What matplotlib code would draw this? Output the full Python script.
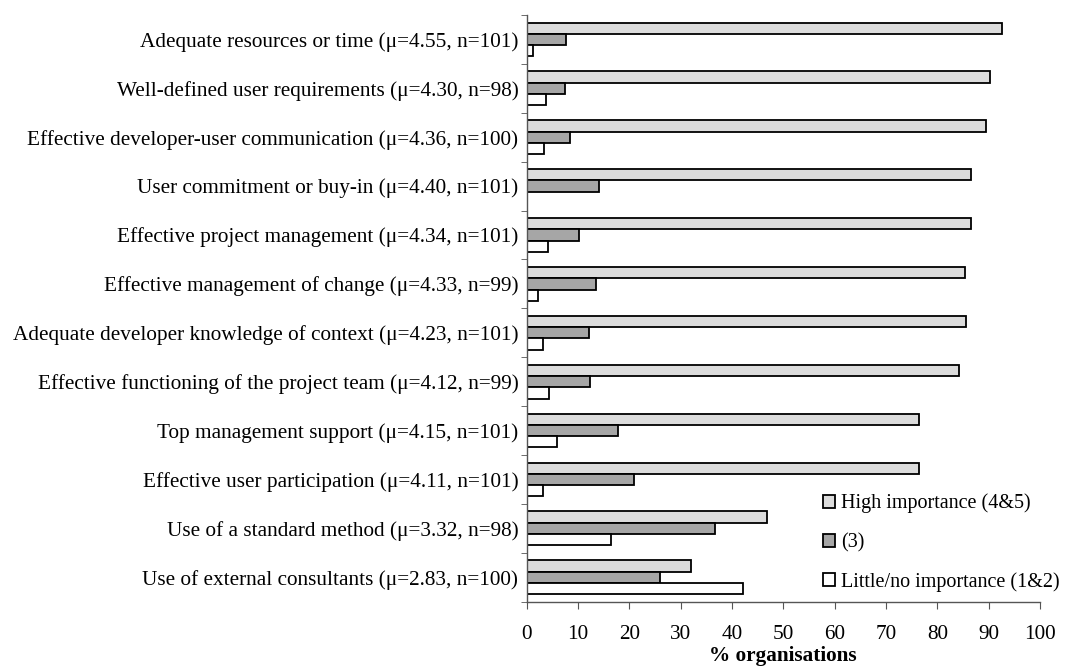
import numpy as np
import matplotlib
matplotlib.use("Agg")
import matplotlib.pyplot as plt

plt.rcParams['font.family'] = ['Liberation Serif', 'DejaVu Serif']

factors = [
    "Adequate resources or time (\u03bc=4.55, n=101)",
    "Well-defined user requirements (\u03bc=4.30, n=98)",
    "Effective developer-user communication (\u03bc=4.36, n=100)",
    "User commitment or buy-in (\u03bc=4.40, n=101)",
    "Effective project management (\u03bc=4.34, n=101)",
    "Effective management of change (\u03bc=4.33, n=99)",
    "Adequate developer knowledge of context (\u03bc=4.23, n=101)",
    "Effective functioning of the project team (\u03bc=4.12, n=99)",
    "Top management support (\u03bc=4.15, n=101)",
    "Effective user participation (\u03bc=4.11, n=101)",
    "Use of a standard method (\u03bc=3.32, n=98)",
    "Use of external consultants (\u03bc=2.83, n=100)",
]
high = [92.6, 90.2, 89.5, 86.6, 86.6, 85.3, 85.6, 84.3, 76.5, 76.5, 46.9, 32.1]
mid = [7.6, 7.4, 8.4, 14.1, 10.2, 13.5, 12.1, 12.3, 17.8, 20.9, 36.7, 26.0]
low = [1.2, 3.7, 3.4, 0.0, 4.2, 2.3, 3.2, 4.4, 5.9, 3.1, 16.4, 42.1]
series_labels = ["High importance (4&5)", "(3)", "Little/no importance (1&2)"]
series_colors = ["#dcdcdc", "#a6a6a6", "white"]

fig = plt.figure(figsize=(10.66, 6.69), dpi=100)
ax = fig.add_axes([0.494, 0.1006, 0.4816, 0.877])

n = len(factors)
pos = np.arange(n)
h = 0.23
for k, (vals, lab, col) in enumerate(zip([high, mid, low], series_labels, series_colors)):
    ax.barh(pos + (k - 1) * h, vals, height=h, color=col, edgecolor='black',
            linewidth=1.3, label=lab)

fs = 15.3
ax.set_ylim(n - 0.5, -0.5)
ax.set_xlim(0, 100)
ax.set_yticks(pos)
ax.set_yticklabels(factors, fontsize=fs)
ax.set_yticks(np.arange(n + 1) - 0.5, minor=True)
ax.tick_params(axis='y', which='major', length=0, pad=6)
ax.tick_params(axis='y', which='minor', length=4, color='#555555')
ax.set_xticks(np.arange(0, 101, 10))
ax.tick_params(axis='x', labelsize=fs, length=5, color='#555555', pad=12)
ax.set_xlabel("% organisations", fontsize=fs, fontweight='bold', labelpad=1)

for s in ['top', 'right']:
    ax.spines[s].set_visible(False)
for s in ['left', 'bottom']:
    ax.spines[s].set_color('#555555')
    ax.spines[s].set_linewidth(1.0)

leg = ax.legend(loc='upper left', bbox_to_anchor=(0.577, 0.184), frameon=False,
                fontsize=14.5, handlelength=0.6, handleheight=0.6,
                handletextpad=0.3, labelspacing=0.97, borderpad=0, borderaxespad=0)

fig.savefig("out.png", dpi=100)
